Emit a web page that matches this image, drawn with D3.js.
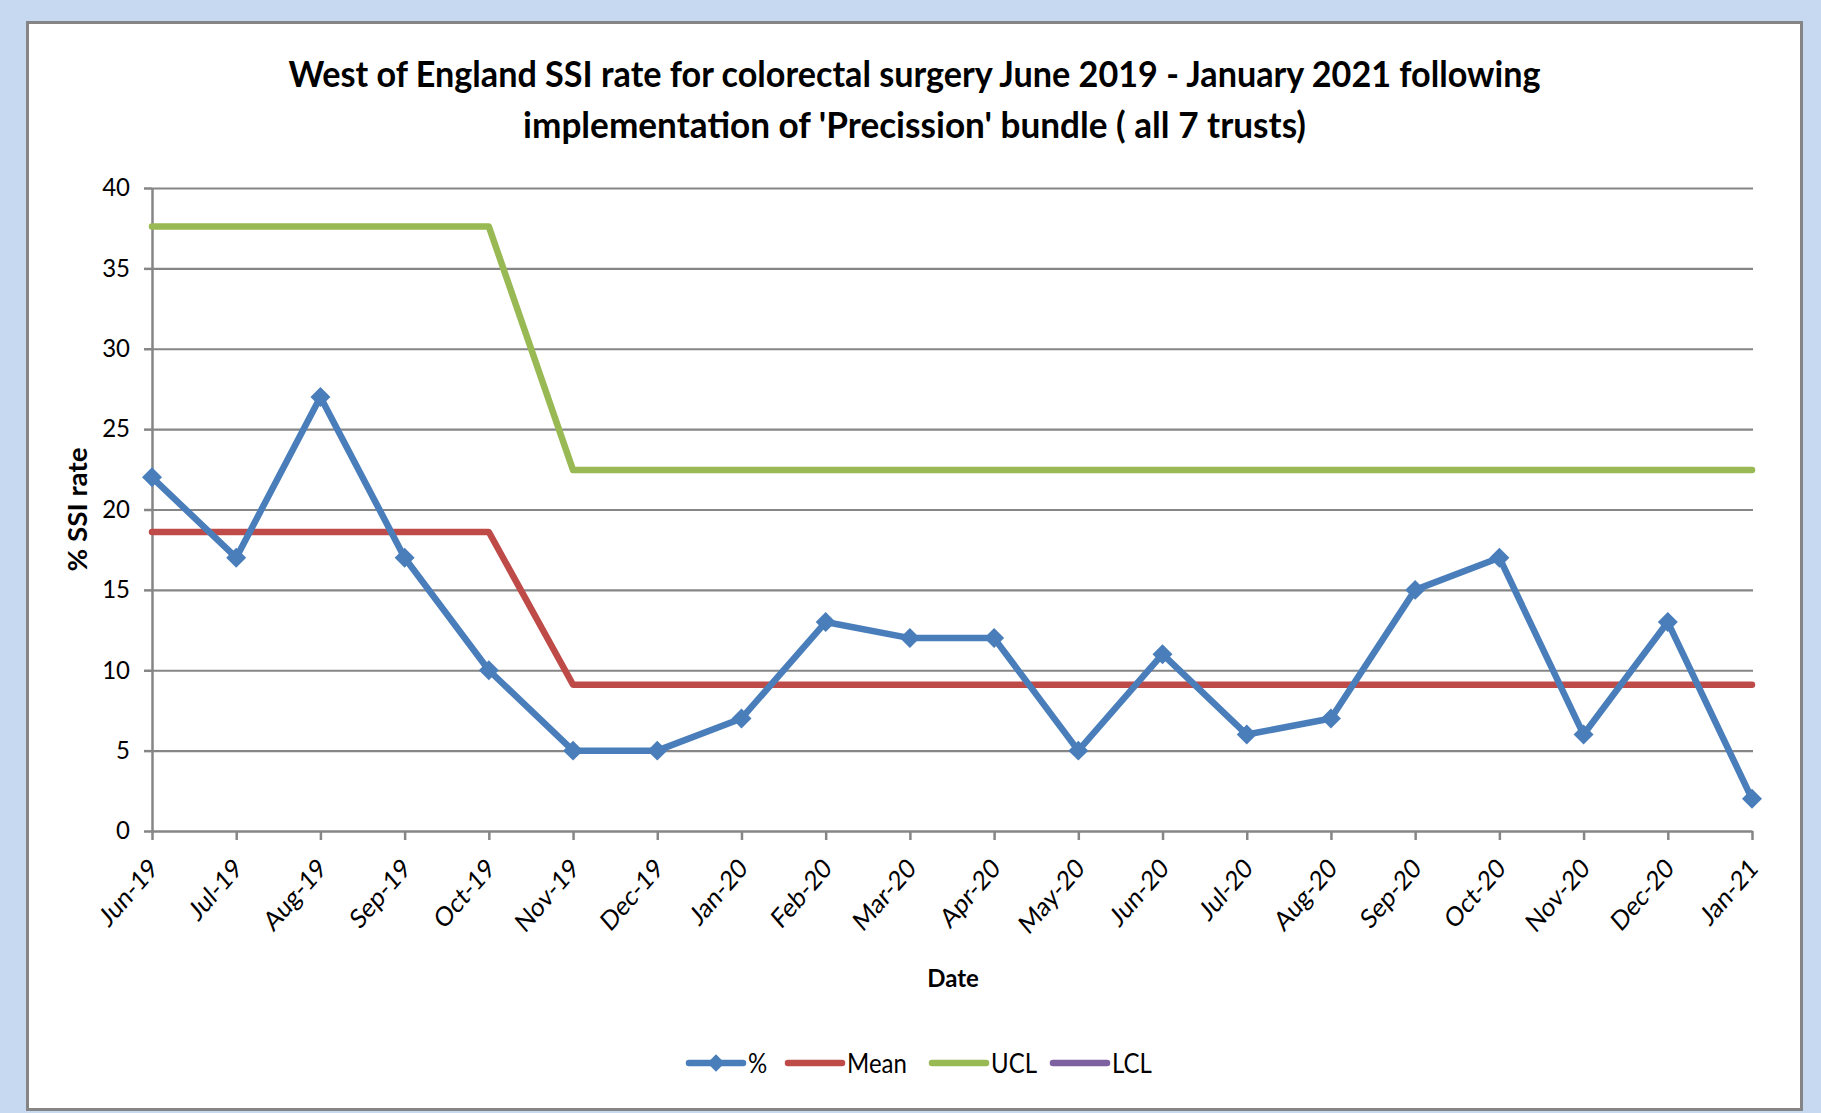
<!DOCTYPE html>
<html>
<head>
<meta charset="utf-8">
<script src="https://cdn.jsdelivr.net/npm/d3@7"></script>
<style>
  html, body { margin: 0; padding: 0; background: #c6d9f0; }
  svg { display: block; }
  text { font-family: Lato, "Open Sans", sans-serif; fill: #000; }
</style>
</head>
<body>
<svg id="chart" width="1821" height="1113"></svg>
<script>
// ---- data ----
const months = ["Jun-19","Jul-19","Aug-19","Sep-19","Oct-19","Nov-19","Dec-19","Jan-20","Feb-20","Mar-20",
                "Apr-20","May-20","Jun-20","Jul-20","Aug-20","Sep-20","Oct-20","Nov-20","Dec-20","Jan-21"];
const pctValues  = [22, 17, 27, 17, 10, 5, 5, 7, 13, 12, 12, 5, 11, 6, 7, 15, 17, 6, 13, 2];
const meanValues = [18.6, 18.6, 18.6, 18.6, 18.6, 9.1, 9.1, 9.1, 9.1, 9.1, 9.1, 9.1, 9.1, 9.1, 9.1, 9.1, 9.1, 9.1, 9.1, 9.1];
const uclValues  = [37.6, 37.6, 37.6, 37.6, 37.6, 22.45, 22.45, 22.45, 22.45, 22.45, 22.45, 22.45, 22.45, 22.45, 22.45, 22.45, 22.45, 22.45, 22.45, 22.45];
const lclValues  = [null, null, null, null, null, null, null, null, null, null, null, null, null, null, null, null, null, null, null, null];
const yTicks = [0, 5, 10, 15, 20, 25, 30, 35, 40];
const seriesNames = ["%", "Mean", "UCL", "LCL"];
const titleLines = ["West of England SSI rate for colorectal surgery June 2019 - January 2021 following",
                    "implementation of 'Precission' bundle ( all 7 trusts)"];
const xTitle = "Date";
const yTitle = "% SSI rate";

// ---- style ----
const colors = { "%": "#4a7ebb", "Mean": "#be4b48", "UCL": "#98b954", "LCL": "#7d60a0" };
const gridColor = "#868686";
const W = 1821, H = 1113;
const plot = { left: 152, right: 1752, top: 188, bottom: 831 };

const svg = d3.select("#chart");

// background + panel
svg.append("rect").attr("x", 0).attr("y", 0).attr("width", W).attr("height", H).attr("fill", "#c6d9f0");
svg.append("rect").attr("x", 27.5).attr("y", 22.5).attr("width", 1774).attr("height", 1087)
  .attr("fill", "#fff").attr("stroke", "#858585").attr("stroke-width", 3);

// scales
const x = d3.scalePoint().domain(months).range([plot.left, plot.right]).padding(0);
const y = d3.scaleLinear().domain([0, 40]).range([plot.bottom, plot.top]);

// gridlines
svg.append("g")
  .attr("transform", `translate(${plot.left},0)`)
  .call(d3.axisLeft(y).tickValues(yTicks.filter(d => d > 0)).tickSize(-(plot.right - plot.left + 1)).tickFormat(""))
  .call(g => g.select(".domain").remove())
  .call(g => g.selectAll(".tick line").attr("stroke", gridColor).attr("stroke-width", 2.2));

// y axis
svg.append("g")
  .attr("transform", `translate(${plot.left},0)`)
  .call(d3.axisLeft(y).tickValues(yTicks).tickSizeInner(8).tickSizeOuter(0).tickPadding(14))
  .call(g => g.select(".domain").attr("stroke", gridColor).attr("stroke-width", 2.5))
  .call(g => g.selectAll(".tick line").attr("stroke", gridColor).attr("stroke-width", 2.5))
  .call(g => g.selectAll(".tick text").attr("font-size", 24).attr("font-family", "Lato").attr("fill", "#000")
    .attr("transform", "scale(1,1.08)").attr("dy", "0.3em"));

// y tick labels: keep vertical centre on tick after scale
svg.selectAll(".tick text").filter(function () { return this.getAttribute("transform") === "scale(1,1.08)"; })
  .each(function () {
    const t = d3.select(this);
    const ty = +d3.select(this.parentNode).attr("transform").match(/,\s*([-\d.]+)\)/)[1];
    t.attr("transform", `translate(0,${-ty * 0.08 / 1.08 * 0}) scale(1,1.08)`);
  });

// x axis
const xAxis = svg.append("g")
  .attr("transform", `translate(0,${plot.bottom})`)
  .call(d3.axisBottom(x).tickSizeInner(9).tickSizeOuter(0))
  .call(g => g.select(".domain").attr("stroke", gridColor).attr("stroke-width", 2.5))
  .call(g => g.selectAll(".tick line").attr("stroke", gridColor).attr("stroke-width", 2.5));
xAxis.selectAll(".tick text")
  .attr("font-size", 23.5).attr("font-family", "Lato").attr("fill", "#000")
  .attr("text-anchor", "end")
  .attr("x", 0).attr("y", 0).attr("dy", 0)
  .attr("transform", "translate(7,39) scale(1,1.15) rotate(-45)");

// series lines
function drawLine(vals, name, width) {
  const line = d3.line()
    .defined(d => d != null)
    .x((d, i) => x(months[i]))
    .y(d => y(d));
  svg.append("path")
    .datum(vals)
    .attr("d", line)
    .attr("fill", "none")
    .attr("stroke", colors[name])
    .attr("stroke-width", width)
    .attr("stroke-linejoin", "round")
    .attr("stroke-linecap", "round");
}
drawLine(lclValues, "LCL", 6.5);
drawLine(uclValues, "UCL", 6.5);
drawLine(meanValues, "Mean", 6.5);
drawLine(pctValues, "%", 6.5);

// diamond markers
svg.append("g").selectAll("path")
  .data(pctValues)
  .join("path")
  .attr("d", d3.symbol().type(d3.symbolSquare).size(200))
  .attr("transform", (d, i) => `translate(${x(months[i])},${y(d)}) rotate(45)`)
  .attr("fill", colors["%"]);

// title
const title = svg.append("g");
const titleLens = [1252, 783];
const titleBase = [87, 138];
titleLines.forEach((t, i) => {
  title.append("text")
    .attr("x", 914.5).attr("y", titleBase[i])
    .attr("text-anchor", "middle")
    .attr("font-size", 36).attr("font-weight", 700)
    .attr("textLength", titleLens[i]).attr("lengthAdjust", "spacingAndGlyphs")
    .text(t);
});

// axis titles
svg.append("text")
  .attr("x", 953).attr("y", 987)
  .attr("text-anchor", "middle")
  .attr("font-size", 24).attr("font-weight", 700)
  .text(xTitle);
svg.append("text")
  .attr("transform", `translate(87,${(plot.top + plot.bottom) / 2}) rotate(-90)`)
  .attr("text-anchor", "middle")
  .attr("font-size", 26).attr("font-weight", 700)
  .attr("textLength", 124).attr("lengthAdjust", "spacingAndGlyphs")
  .text(yTitle);

// legend
const legendY = 1063;
const legendStarts = [689, 788, 932, 1053];
const legend = svg.append("g");
seriesNames.forEach((name, i) => {
  const x0 = legendStarts[i];
  legend.append("line")
    .attr("x1", x0).attr("x2", x0 + 54)
    .attr("y1", legendY).attr("y2", legendY)
    .attr("stroke", colors[name]).attr("stroke-width", 6.5).attr("stroke-linecap", "round");
  if (name === "%") {
    legend.append("path")
      .attr("d", d3.symbol().type(d3.symbolSquare).size(150))
      .attr("transform", `translate(${x0 + 27},${legendY}) rotate(45)`)
      .attr("fill", colors[name]);
  }
  legend.append("text")
    .attr("x", x0 + 59).attr("y", legendY + 10)
    .attr("font-size", 24)
    .attr("transform", `translate(0,${-(legendY + 10) * 0.1}) scale(1,1.1)`)
    .text(name);
});
</script>
</body>
</html>
